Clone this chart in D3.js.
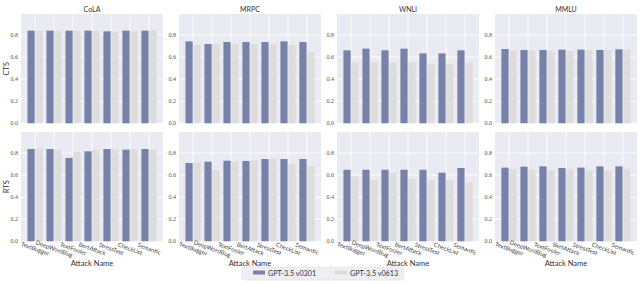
<!DOCTYPE html>
<html>
<head>
<meta charset="utf-8">
<script src="https://cdn.jsdelivr.net/npm/d3@7"></script>
<style>
  body { margin: 0; background: #fff; }
  svg { display: block; }
</style>
</head>
<body>
<div id="chart"></div>
<script>
// labels and values
const categories = ["TextBugger", "DeepWordBug", "TextFooler", "BertAttack", "StressTest", "CheckList", "Semantic"];
const datasets = ["CoLA", "MRPC", "WNLI", "MMLU"];
const metrics = ["CTS", "RTS"];
const models = ["GPT-3.5 v0301", "GPT-3.5 v0613"];
const yTicks = [0, 0.2, 0.4, 0.6, 0.8];

// CTS
const ctsColaV0301 = [0.839, 0.839, 0.839, 0.839, 0.833, 0.839, 0.839];
const ctsColaV0613 = [0.839, 0.833, 0.839, 0.836, 0.830, 0.833, 0.845];
const ctsMrpcV0301 = [0.742, 0.718, 0.736, 0.736, 0.736, 0.742, 0.736];
const ctsMrpcV0613 = [0.712, 0.718, 0.715, 0.715, 0.715, 0.709, 0.642];
const ctsWnliV0301 = [0.661, 0.676, 0.661, 0.676, 0.633, 0.633, 0.661];
const ctsWnliV0613 = [0.552, 0.552, 0.552, 0.552, 0.536, 0.536, 0.552];
const ctsMmluV0301 = [0.673, 0.664, 0.664, 0.667, 0.667, 0.664, 0.670];
const ctsMmluV0613 = [0.658, 0.661, 0.652, 0.652, 0.661, 0.661, 0.670];

// RTS
const rtsColaV0301 = [0.836, 0.836, 0.755, 0.815, 0.836, 0.830, 0.836];
const rtsColaV0613 = [0.839, 0.830, 0.809, 0.830, 0.833, 0.833, 0.830];
const rtsMrpcV0301 = [0.709, 0.721, 0.730, 0.727, 0.745, 0.745, 0.745];
const rtsMrpcV0613 = [0.715, 0.648, 0.727, 0.733, 0.748, 0.700, 0.682];
const rtsWnliV0301 = [0.648, 0.648, 0.648, 0.648, 0.648, 0.621, 0.664];
const rtsWnliV0613 = [0.588, 0.552, 0.621, 0.564, 0.552, 0.552, 0.533];
const rtsMmluV0301 = [0.667, 0.676, 0.679, 0.664, 0.667, 0.679, 0.679];
const rtsMmluV0613 = [0.655, 0.652, 0.642, 0.652, 0.639, 0.642, 0.658];

const values = {
  CTS: {
    CoLA: [ctsColaV0301, ctsColaV0613],
    MRPC: [ctsMrpcV0301, ctsMrpcV0613],
    WNLI: [ctsWnliV0301, ctsWnliV0613],
    MMLU: [ctsMmluV0301, ctsMmluV0613]
  },
  RTS: {
    CoLA: [rtsColaV0301, rtsColaV0613],
    MRPC: [rtsMrpcV0301, rtsMrpcV0613],
    WNLI: [rtsWnliV0301, rtsWnliV0613],
    MMLU: [rtsMmluV0301, rtsMmluV0613]
  }
};

const width = 644;
const height = 284;
const colors = ["#7882a9", "#dddddd"];
const bg = "#eaeaf2";

const svg = d3.select("#chart")
  .append("svg")
  .attr("width", width)
  .attr("height", height);

// panel columns
const colScale = d3.scaleBand()
  .domain(datasets)
  .range([21, 637])
  .paddingInner(0.101);

// panel rows: [top, bottom]
const rowRange = { CTS: [123.3, 14], RTS: [241.3, 132] };

metrics.forEach((metric, ri) => {
  const y = d3.scaleLinear()
    .domain([0, 0.99])
    .range(rowRange[metric]);

  datasets.forEach((ds, ci) => {
    const x0 = d3.scaleBand()
      .domain(categories)
      .range([colScale(ds), colScale(ds) + colScale.bandwidth()])
      .paddingInner(0)
      .paddingOuter(0.24);

    const x1 = d3.scaleBand()
      .domain(models)
      .range([x0.bandwidth() * 0.1, x0.bandwidth() * 0.9])
      .paddingInner(0.1);

    const g = svg.append("g");

    g.append("rect")
      .attr("x", x0.range()[0])
      .attr("y", y.range()[1])
      .attr("width", x0.range()[1] - x0.range()[0])
      .attr("height", y.range()[0] - y.range()[1])
      .attr("fill", bg);

    // grid
    g.selectAll(".hgrid")
      .data(yTicks).enter()
      .append("line")
      .attr("x1", x0.range()[0])
      .attr("x2", x0.range()[1])
      .attr("y1", d => y(d))
      .attr("y2", d => y(d))
      .attr("stroke", "#fff")
      .attr("stroke-width", 0.8);

    g.selectAll(".vgrid")
      .data(categories).enter()
      .append("line")
      .attr("x1", d => x0(d) + x0.bandwidth() / 2)
      .attr("x2", d => x0(d) + x0.bandwidth() / 2)
      .attr("y1", y.range()[0])
      .attr("y2", y.range()[1])
      .attr("stroke", "#fff")
      .attr("stroke-width", 0.8);

    // bars
    models.forEach((m, mi) => {
      g.selectAll(".bar" + mi)
        .data(values[metric][ds][mi]).enter()
        .append("rect")
        .attr("x", (d, i) => x0(categories[i]) + x1(m))
        .attr("y", d => y(d))
        .attr("width", x1.bandwidth())
        .attr("height", d => y(0) - y(d))
        .attr("fill", colors[mi]);
    });

    // y tick labels
    g.selectAll(".ytl")
      .data(yTicks).enter()
      .append("text")
      .attr("x", x0.range()[0] - 3)
      .attr("y", d => y(d) + 2)
      .attr("text-anchor", "end")
      .attr("font-family", "Liberation Serif, DejaVu Serif, serif")
      .attr("font-size", 6)
      .attr("fill", "#555")
      .text(d => d.toFixed(1));

    const cx = colScale(ds) + colScale.bandwidth() / 2;

    if (ri === 0) {
      g.append("text")
        .attr("x", cx)
        .attr("y", 12)
        .attr("text-anchor", "middle")
        .attr("font-family", "Lato, sans-serif")
        .attr("font-size", 7)
        .attr("fill", "#333")
        .text(ds);
    } else {
      g.selectAll(".xtl")
        .data(categories).enter()
        .append("text")
        .attr("transform", d => `translate(${x0(d) + x0.bandwidth() / 2},${y(0) + 8}) rotate(20)`)
        .attr("text-anchor", "middle")
        .attr("dominant-baseline", "middle")
        .attr("font-family", "Lato, sans-serif")
        .attr("font-size", 6)
        .attr("fill", "#444")
        .text(d => d);

      g.append("text")
        .attr("x", cx)
        .attr("y", 266)
        .attr("text-anchor", "middle")
        .attr("font-family", "Lato, sans-serif")
        .attr("font-size", 7.5)
        .attr("fill", "#333")
        .text("Attack Name");
    }
  });

  // row label
  const mid = (rowRange[metric][0] + rowRange[metric][1]) / 2;
  svg.append("text")
    .attr("transform", `translate(9,${mid}) rotate(-90)`)
    .attr("text-anchor", "middle")
    .attr("font-family", "Lato, sans-serif")
    .attr("font-size", 7.5)
    .attr("fill", "#333")
    .text(metric);
});

// legend
const legend = svg.append("g");
legend.append("rect")
  .attr("x", 241.5)
  .attr("y", 267)
  .attr("width", 162)
  .attr("height", 13)
  .attr("rx", 2)
  .attr("fill", "#eeeef3")
  .attr("stroke", "#e0e0e6")
  .attr("stroke-width", 0.6);

const legX = d3.scaleOrdinal()
  .domain(models)
  .range([253, 335]);

legend.selectAll(".sw")
  .data(models).enter()
  .append("rect")
  .attr("x", d => legX(d))
  .attr("y", 270.5)
  .attr("width", 12)
  .attr("height", 4)
  .attr("fill", (d, i) => colors[i]);

legend.selectAll(".lt")
  .data(models).enter()
  .append("text")
  .attr("x", d => legX(d) + 15)
  .attr("y", 275.5)
  .attr("font-family", "Lato, sans-serif")
  .attr("font-size", 7.2)
  .attr("fill", "#333")
  .text(d => d);
</script>
</body>
</html>
